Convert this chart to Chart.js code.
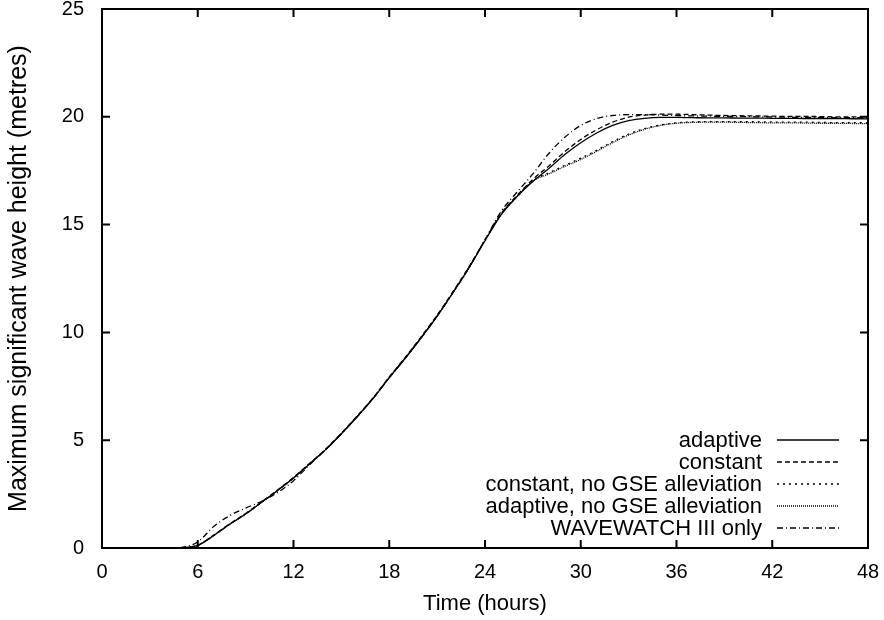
<!DOCTYPE html>
<html>
<head>
<meta charset="utf-8">
<script src="https://cdn.jsdelivr.net/npm/chart.js@4.4.1/dist/chart.umd.min.js"></script>
<style>
  html, body { margin: 0; padding: 0; background: #fff; }
  canvas { display: block; }
</style>
</head>
<body>
<canvas id="waveChart" width="884" height="620"></canvas>
<script>
// time axis (hours)
const hours = [0, 1, 2, 3, 4, 5, 6, 7, 8, 9, 10, 11, 12, 13, 14, 15, 16, 17, 18, 19, 20, 21, 22, 23, 24,
  25, 26, 27, 28, 29, 30, 31, 32, 33, 34, 35, 36, 37, 38, 39, 40, 41, 42, 43, 44, 45, 46, 47, 48];

// maximum significant wave height (m)
const adaptive = [0, 0, 0, 0, 0, 0.01, 0.12, 0.58, 1.1, 1.58, 2.12, 2.67, 3.25, 3.9, 4.55, 5.3, 6.1, 6.95, 7.9, 8.8,
  9.75, 10.75, 11.85, 13.0, 14.25, 15.45, 16.3, 17.0, 17.6, 18.25, 18.8, 19.25, 19.6, 19.82, 19.93, 19.97, 19.97,
  19.96, 19.95, 19.95, 19.94, 19.94, 19.93, 19.93, 19.92, 19.92, 19.92, 19.91, 19.9];
const constant = [0, 0, 0, 0, 0, 0.01, 0.13, 0.6, 1.12, 1.6, 2.14, 2.69, 3.27, 3.92, 4.58, 5.33, 6.13, 6.98, 7.93, 8.84,
  9.8, 10.8, 11.9, 13.05, 14.3, 15.5, 16.35, 17.1, 17.72, 18.38, 18.95, 19.4, 19.75, 19.98, 20.08, 20.12, 20.12,
  20.1, 20.08, 20.06, 20.05, 20.04, 20.03, 20.02, 20.02, 20.01, 20.0, 20.0, 20.0];
const constantNoGse = [0, 0, 0, 0, 0, 0.01, 0.12, 0.58, 1.1, 1.58, 2.12, 2.67, 3.25, 3.9, 4.56, 5.31, 6.11, 6.96, 7.91, 8.81,
  9.77, 10.77, 11.87, 13.02, 14.27, 15.47, 16.3, 17.05, 17.4, 17.75, 18.08, 18.45, 18.85, 19.2, 19.45, 19.62, 19.72,
  19.76, 19.78, 19.78, 19.77, 19.77, 19.76, 19.75, 19.75, 19.74, 19.73, 19.73, 19.72];
const adaptiveNoGse = [0, 0, 0, 0, 0, 0.01, 0.12, 0.58, 1.1, 1.58, 2.12, 2.67, 3.25, 3.9, 4.55, 5.3, 6.1, 6.95, 7.9, 8.8,
  9.75, 10.75, 11.85, 13.0, 14.25, 15.45, 16.28, 17.02, 17.35, 17.7, 18.02, 18.4, 18.8, 19.15, 19.42, 19.6, 19.7,
  19.74, 19.75, 19.75, 19.74, 19.73, 19.72, 19.72, 19.71, 19.7, 19.7, 19.69, 19.68];
const wavewatchOnly = [0, 0, 0, 0, 0, 0.03, 0.28, 1.0, 1.5, 1.85, 2.17, 2.57, 3.12, 3.85, 4.55, 5.3, 6.1, 6.95, 7.9, 8.8,
  9.75, 10.75, 11.85, 13.0, 14.3, 15.6, 16.5, 17.35, 18.3, 19.05, 19.6, 19.92, 20.06, 20.1, 20.1, 20.08, 20.06,
  20.04, 20.03, 20.02, 20.01, 20.0, 19.99, 19.98, 19.97, 19.97, 19.96, 19.96, 19.95];

const seriesNames = ["adaptive", "constant", "constant, no GSE alleviation", "adaptive, no GSE alleviation", "WAVEWATCH III only"];
const seriesValues = [adaptive, constant, constantNoGse, adaptiveNoGse, wavewatchOnly];
const dashes = [[], [5, 3], [2, 4], [1, 1], [6, 3, 1, 3]];

const xTicks = [0, 6, 12, 18, 24, 30, 36, 42, 48];
const yTicks = [0, 5, 10, 15, 20, 25];

const FONT = "'Liberation Sans', Arial, Helvetica, sans-serif";

const datasets = seriesValues.map((vals, i) => ({
  label: seriesNames[i],
  data: hours.map((t, k) => ({ x: t, y: vals[k] })),
  borderColor: "#000",
  borderWidth: 1.3,
  borderDash: dashes[i],
  pointRadius: 0,
  fill: false,
  cubicInterpolationMode: "monotone",
}));

// gnuplot-ish frame with inward ticks on all four sides
const framePlugin = {
  id: "frame",
  afterDraw(chart) {
    const { ctx, chartArea: a, scales } = chart;
    ctx.save();
    ctx.strokeStyle = "#000";
    ctx.lineWidth = 2;
    ctx.strokeRect(a.left, a.top, a.right - a.left, a.bottom - a.top);
    ctx.beginPath();
    const len = 8;
    xTicks.forEach((v) => {
      const px = scales.x.getPixelForValue(v);
      ctx.moveTo(px, a.bottom);
      ctx.lineTo(px, a.bottom - len);
      ctx.moveTo(px, a.top);
      ctx.lineTo(px, a.top + len);
    });
    yTicks.forEach((v) => {
      const py = scales.y.getPixelForValue(v);
      ctx.moveTo(a.left, py);
      ctx.lineTo(a.left + len, py);
      ctx.moveTo(a.right, py);
      ctx.lineTo(a.right - len, py);
    });
    ctx.stroke();
    ctx.restore();
  },
};

// legend inside the plot, text right-aligned with the line sample on its right
const keyPlugin = {
  id: "key",
  afterDatasetsDraw(chart) {
    const { ctx, chartArea: a } = chart;
    const n = chart.data.datasets.length;
    ctx.save();
    ctx.font = "22px " + FONT;
    ctx.fillStyle = "#000";
    ctx.textAlign = "right";
    ctx.textBaseline = "middle";
    chart.data.datasets.forEach((ds, i) => {
      const y = a.bottom - 20 - (n - 1 - i) * 22;
      ctx.fillText(ds.label, a.right - 106, y + 1);
      ctx.beginPath();
      ctx.setLineDash(ds.borderDash);
      ctx.lineWidth = ds.borderWidth;
      ctx.strokeStyle = ds.borderColor;
      ctx.moveTo(a.right - 91, y);
      ctx.lineTo(a.right - 29, y);
      ctx.stroke();
    });
    ctx.restore();
  },
};

const ctx = document.getElementById("waveChart").getContext("2d");

new Chart(ctx, {
  type: "line",
  data: { datasets: datasets },
  options: {
    responsive: false,
    animation: false,
    devicePixelRatio: 1,
    layout: { padding: { top: 9, right: 16, left: 0, bottom: 0 } },
    plugins: {
      legend: { display: false },
      tooltip: { enabled: false },
    },
    scales: {
      x: {
        type: "linear",
        min: 0,
        max: 48,
        afterBuildTicks: (scale) => {
          scale.ticks = xTicks.map((v) => ({ value: v }));
        },
        afterFit: (scale) => {
          scale.height = 72;
          scale.paddingLeft = 0;
          scale.paddingRight = 0;
        },
        ticks: { color: "#000", font: { family: FONT, size: 20 }, padding: 4, maxRotation: 0 },
        grid: { display: false },
        border: { display: false },
        title: {
          display: true,
          text: "Time (hours)",
          color: "#000",
          font: { family: FONT, size: 22 },
          padding: { top: 3, bottom: 3 },
        },
      },
      y: {
        min: 0,
        max: 25,
        afterBuildTicks: (scale) => {
          scale.ticks = yTicks.map((v) => ({ value: v }));
        },
        afterFit: (scale) => {
          scale.width = 102;
          scale.paddingTop = 0;
          scale.paddingBottom = 0;
        },
        ticks: { color: "#000", font: { family: FONT, size: 20 }, padding: 10 },
        grid: { display: false },
        border: { display: false },
        title: {
          display: true,
          text: "Maximum significant wave height (metres)",
          color: "#000",
          font: { family: FONT, size: 25 },
          padding: { top: 4, bottom: 0 },
        },
      },
    },
  },
  plugins: [keyPlugin, framePlugin],
});
</script>
</body>
</html>
